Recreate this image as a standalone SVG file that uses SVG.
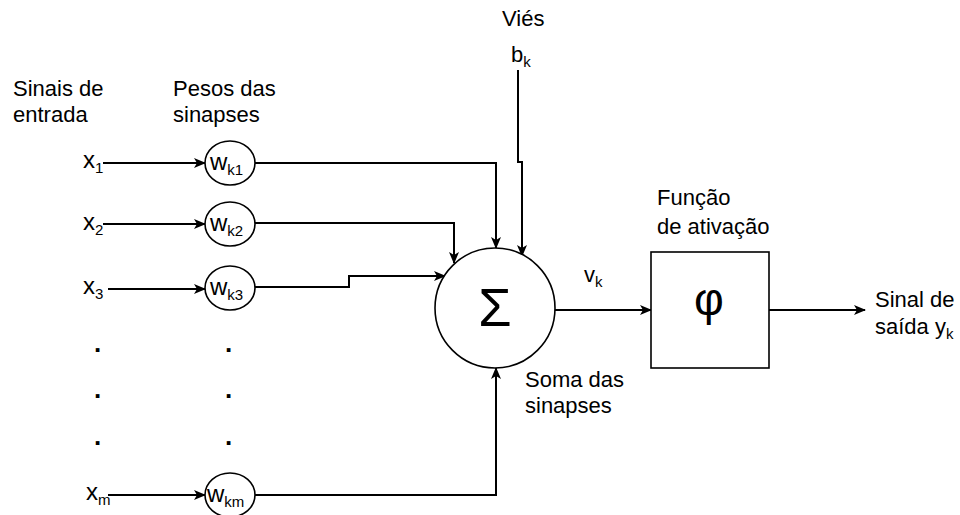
<svg xmlns="http://www.w3.org/2000/svg" width="960" height="515" viewBox="0 0 960 515">
<style>
text{font-family:"Liberation Sans",Arial,sans-serif;font-size:22px;fill:#000}
.sub{font-size:15px}
.big{font-size:24px}
.dot{font-size:26px;font-weight:bold}
.shape{fill:#fff;stroke:#000;stroke-width:1.6}
.wire{fill:none;stroke:#000;stroke-width:2}
</style>
<defs>
<marker id="arr" viewBox="0 0 12 10" refX="11" refY="5" markerWidth="12" markerHeight="10" markerUnits="userSpaceOnUse" orient="auto">
<path d="M0,0 L12,5 L0,10 L3,5 z" fill="#000"/>
</marker>
</defs>
<rect width="960" height="515" fill="#fff"/>
<g id="labels">
<text x="13" y="96">Sinais de</text>
<text x="13" y="122">entrada</text>
<text x="173" y="96">Pesos das</text>
<text x="173" y="122">sinapses</text>
<text x="502" y="26">Viés</text>
<text x="511" y="62">b<tspan class="sub" dy="5">k</tspan></text>
<text x="657" y="205">Função</text>
<text x="657" y="234">de ativação</text>
<text x="584" y="282">v<tspan class="sub" dy="5">k</tspan></text>
<text x="525" y="387">Soma das</text>
<text x="525" y="413">sinapses</text>
<text x="875" y="307">Sinal de</text>
<text x="875" y="334">saída y<tspan class="sub" dy="5">k</tspan></text>
</g>
<g id="inputs">
<text class="big" x="83" y="168">x<tspan class="sub" dy="5">1</tspan></text>
<text class="big" x="83" y="230">x<tspan class="sub" dy="5">2</tspan></text>
<text class="big" x="83" y="294">x<tspan class="sub" dy="5">3</tspan></text>
<text class="big" x="86" y="500">x<tspan class="sub" dy="5">m</tspan></text>
<text class="dot" x="94" y="352">.</text>
<text class="dot" x="94" y="398">.</text>
<text class="dot" x="94" y="445">.</text>
<text class="dot" x="225" y="352">.</text>
<text class="dot" x="225" y="398">.</text>
<text class="dot" x="225" y="445">.</text>
</g>
<g id="connectors">
<path class="wire" marker-end="url(#arr)" d="M103,163 H205"/>
<path class="wire" marker-end="url(#arr)" d="M103,224 H205"/>
<path class="wire" marker-end="url(#arr)" d="M108,289 H205"/>
<path class="wire" marker-end="url(#arr)" d="M108,495 H205"/>
<path class="wire" marker-end="url(#arr)" d="M255,163 H496 V248"/>
<path class="wire" marker-end="url(#arr)" d="M518,70 V162 H522 V256"/>
<path class="wire" marker-end="url(#arr)" d="M255,223 H454 V263"/>
<path class="wire" marker-end="url(#arr)" d="M255,287 H349 V276 H445"/>
<path class="wire" marker-end="url(#arr)" d="M255,495 H496 V368"/>
<path class="wire" marker-end="url(#arr)" d="M555,310 H651"/>
<path class="wire" marker-end="url(#arr)" d="M769,310 H865"/>
</g>
<g id="w1"><ellipse class="shape" cx="230" cy="163" rx="25" ry="22"/><text class="big" x="210" y="170">w<tspan class="sub" dy="5">k1</tspan></text></g>
<g id="w2"><ellipse class="shape" cx="230" cy="224" rx="25" ry="22"/><text class="big" x="210" y="231">w<tspan class="sub" dy="5">k2</tspan></text></g>
<g id="w3"><ellipse class="shape" cx="230" cy="288" rx="25" ry="22"/><text class="big" x="210" y="295">w<tspan class="sub" dy="5">k3</tspan></text></g>
<g id="wm"><ellipse class="shape" cx="230" cy="495" rx="25" ry="22"/><text class="big" x="207" y="502">w<tspan class="sub" dy="5">km</tspan></text></g>
<g id="sum"><circle class="shape" cx="495" cy="308" r="60"/><text x="495" y="326" text-anchor="middle" style="font-size:54px">Σ</text></g>
<g id="activation"><rect class="shape" x="651" y="252" width="118" height="116"/><text x="709" y="315" text-anchor="middle" style="font-size:46px">φ</text></g>
</svg>
